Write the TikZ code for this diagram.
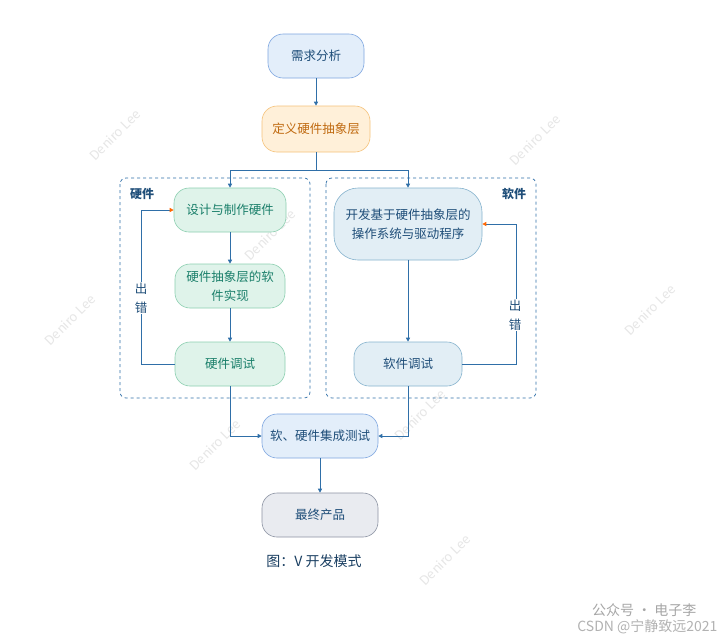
\documentclass[tikz,border=0pt]{standalone}
\usepackage{fontspec}
\setmainfont{Noto Sans CJK SC}
\usetikzlibrary{arrows.meta}
\definecolor{bfill}{HTML}{E3EEFA}\definecolor{bline}{HTML}{7EA6E0}
\definecolor{ofill}{HTML}{FFF0D9}\definecolor{oline}{HTML}{F5C27A}
\definecolor{gfill}{HTML}{DFF3EA}\definecolor{gline}{HTML}{8CCFB0}
\definecolor{sfill}{HTML}{E2EEF5}\definecolor{sline}{HTML}{86B3CE}
\definecolor{kfill}{HTML}{E9EBF0}\definecolor{kline}{HTML}{8C93A3}
\definecolor{arr}{HTML}{2F6FA8}\definecolor{txt}{HTML}{1F4E79}
\definecolor{gtxt}{HTML}{1A7F6A}\definecolor{otxt}{HTML}{C06A10}
\definecolor{wm}{HTML}{E6E6E6}
\tikzset{
 box/.style={rounded corners=15pt,draw,line width=0.6pt,align=center,font=\fontsize{12.5}{19}\selectfont,inner sep=0pt},
 bl/.style={box,fill=bfill,draw=bline,text=txt},
 og/.style={box,fill=ofill,draw=oline,text=otxt},
 gn/.style={box,fill=gfill,draw=gline,text=gtxt},
 sw/.style={box,fill=sfill,draw=sline,text=txt},
 gy/.style={box,fill=kfill,draw=kline,text=txt},
 ar/.style={draw=arr,line width=0.7pt,-{Triangle[length=4pt,width=4pt]}},
 oar/.style={draw=arr,line width=0.7pt,-{Triangle[length=4pt,width=4pt,fill=orange!80!red,color=orange!80!red]}},
 dbox/.style={draw=arr,dashed,line width=0.7pt,rounded corners=6pt},
 wmk/.style={text=wm,rotate=45,font=\fontsize{13}{13}\selectfont}
}
\begin{document}
\begin{tikzpicture}[x=1pt,y=-1pt]
\useasboundingbox[fill=white] (0,0) rectangle (724,643);
\foreach \p in {(115,135),(535,140),(270,235),(70,320),(650,310),(215,445),(420,415),(445,560)}
  \node[wmk] at \p {Deniro Lee};
\draw[dbox] (120,178) rectangle (310,398);
\draw[dbox] (326,178) rectangle (536,398);
\node[font=\bfseries\fontsize{12}{13}\selectfont,text=txt] (hw) at (142,194) {硬件};
\node[font=\bfseries\fontsize{12}{13}\selectfont,text=txt] (sw) at (514,194) {软件};
\node[bl,minimum width=96pt,minimum height=44pt] (a) at (316,56) {需求分析};
\node[og,minimum width=108pt,minimum height=46pt] (b) at (316,129) {定义硬件抽象层};
\node[gn,minimum width=112pt,minimum height=44pt] (c) at (230,210) {设计与制作硬件};
\node[gn,minimum width=110pt,minimum height=44pt] (d) at (230,286) {硬件抽象层的软\\件实现};
\node[gn,minimum width=110pt,minimum height=44pt] (e) at (230,364) {硬件调试};
\node[sw,minimum width=148pt,minimum height=72pt,rounded corners=24pt] (f) at (408,224) {开发基于硬件抽象层的\\操作系统与驱动程序};
\node[sw,minimum width=108pt,minimum height=44pt] (g) at (408,364) {软件调试};
\node[bl,minimum width=116pt,minimum height=44pt] (h) at (320,436) {软、硬件集成测试};
\node[gy,minimum width=116pt,minimum height=44pt] (i) at (320,515) {最终产品};
\node[font=\fontsize{14}{15}\selectfont,text=txt!80!black] (cap) at (314,561) {图：V 开发模式};
\coordinate (j) at (316,170);
\draw[ar] (a) -- (b);
\draw[draw=arr,line width=0.7pt] (b.south) -- (j);
\draw[ar] (j) -| (c.north);
\draw[ar] (j) -| (f.north);
\draw[ar] (c) -- (d);
\draw[ar] (d) -- (e);
\draw[ar] (f.south) -- (g.north);
\draw[oar] (e.west) -- ++(-33,0) |- (c.west);
\draw[oar] (g.east) -- ++(54,0) |- (f.east);
\node[fill=white,text=txt,align=center,inner sep=1pt,font=\fontsize{12.5}{19}\selectfont] (l1) at (141,298) {出\\错};
\node[fill=white,text=txt,align=center,inner sep=1pt,font=\fontsize{12.5}{19}\selectfont] (l2) at (515,315) {出\\错};
\draw[ar] (e.south) |- (h.west);
\draw[ar] (g.south) |- (h.east);
\draw[ar] (h) -- (i);
\node[text=gray!70,font=\fontsize{14}{14}\selectfont,anchor=east] (w1) at (700,610) {公众号 · 电子李};
\node[text=gray!60,font=\fontsize{14}{14}\selectfont,anchor=east] (w2) at (721,627) {CSDN @宁静致远2021};
\end{tikzpicture}
\end{document}
